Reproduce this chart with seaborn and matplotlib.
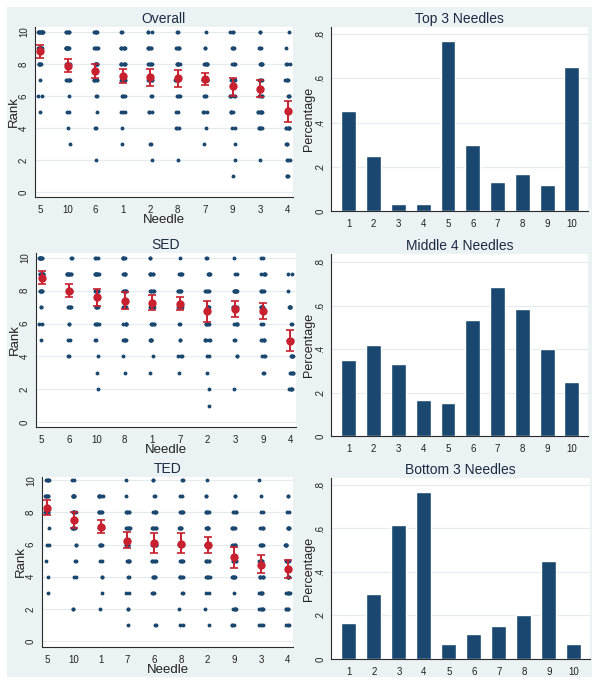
import numpy as np
import pandas as pd
import matplotlib
matplotlib.use("Agg")
import matplotlib.pyplot as plt
from matplotlib.patches import Rectangle
import seaborn as sns

# ---------------- data ----------------
ranks = list(range(1, 11))

overall_order = ["5", "10", "6", "1", "2", "8", "7", "9", "3", "4"]
# counts of respondents at rank 1..10 for each needle (same order as overall_order)
overall_counts = [
    [0, 0, 0, 0, 1, 2, 1, 6, 10, 12],
    [0, 0, 1, 1, 2, 1, 6, 6, 10, 6],
    [0, 1, 0, 2, 1, 2, 6, 7, 5, 5],
    [0, 0, 1, 1, 3, 4, 5, 7, 7, 2],
    [0, 1, 2, 0, 3, 2, 5, 6, 6, 3],
    [0, 1, 0, 3, 2, 4, 5, 7, 5, 2],
    [0, 0, 1, 1, 3, 3, 8, 7, 2, 1],
    [1, 1, 1, 2, 4, 5, 6, 4, 4, 3],
    [0, 1, 0, 5, 7, 4, 4, 6, 3, 2],
    [3, 3, 3, 6, 4, 3, 4, 3, 1, 1],
]
overall_mean = [8.8, 7.9, 7.55, 7.25, 7.2, 7.1, 7.05, 6.6, 6.45, 5.05]
overall_lo = [8.4, 7.5, 7.1, 6.8, 6.65, 6.55, 6.7, 6.0, 5.95, 4.4]
overall_hi = [9.2, 8.3, 8.0, 7.7, 7.7, 7.65, 7.45, 7.15, 7.0, 5.7]

sed_order = ["5", "6", "10", "8", "1", "7", "2", "3", "9", "4"]
sed_counts = [
    [0, 0, 0, 0, 1, 2, 2, 6, 9, 9],
    [0, 0, 0, 2, 2, 2, 5, 9, 9, 2],
    [0, 1, 1, 1, 2, 5, 5, 6, 9, 3],
    [0, 0, 1, 1, 5, 5, 5, 6, 5, 5],
    [0, 0, 1, 1, 5, 5, 5, 6, 6, 2],
    [0, 0, 1, 3, 2, 2, 5, 6, 5, 1],
    [1, 1, 1, 2, 5, 5, 5, 5, 5, 2],
    [0, 1, 0, 2, 2, 5, 6, 9, 2, 1],
    [0, 0, 2, 3, 5, 2, 5, 5, 5, 2],
    [0, 5, 5, 5, 5, 2, 5, 1, 2, 0],
]
sed_mean = [8.8, 8.0, 7.6, 7.4, 7.25, 7.2, 6.75, 6.9, 6.75, 4.95]
sed_lo = [8.4, 7.6, 7.1, 6.9, 6.8, 6.85, 6.1, 6.4, 6.25, 4.3]
sed_hi = [9.2, 8.4, 8.1, 7.9, 7.75, 7.65, 7.4, 7.35, 7.25, 5.6]

ted_order = ["5", "10", "1", "7", "6", "8", "2", "9", "3", "4"]
ted_counts = [
    [0, 0, 1, 1, 1, 2, 1, 9, 6, 5],
    [0, 2, 0, 2, 2, 2, 6, 6, 7, 2],
    [0, 1, 1, 2, 2, 5, 6, 6, 6, 0],
    [1, 2, 2, 2, 5, 6, 6, 5, 1, 1],
    [2, 0, 3, 5, 5, 6, 6, 5, 2, 2],
    [2, 1, 2, 5, 5, 5, 5, 5, 2, 2],
    [1, 1, 2, 5, 5, 5, 6, 5, 2, 1],
    [3, 5, 1, 6, 5, 5, 5, 4, 2, 0],
    [3, 5, 5, 6, 5, 5, 4, 2, 1, 1],
    [3, 4, 5, 5, 5, 5, 5, 2, 2, 0],
]
ted_mean = [8.3, 7.55, 7.1, 6.25, 6.1, 6.05, 6.0, 5.2, 4.75, 4.45]
ted_lo = [7.85, 7.0, 6.7, 5.8, 5.5, 5.45, 5.45, 4.55, 4.2, 3.9]
ted_hi = [8.8, 8.05, 7.55, 6.8, 6.7, 6.7, 6.5, 5.85, 5.35, 5.05]

bar_needles = ["1", "2", "3", "4", "5", "6", "7", "8", "9", "10"]
top3_pct = [0.45, 0.25, 0.033, 0.033, 0.767, 0.30, 0.133, 0.167, 0.117, 0.65]
middle4_pct = [0.35, 0.417, 0.333, 0.167, 0.15, 0.533, 0.683, 0.583, 0.40, 0.25]
bottom3_pct = [0.167, 0.30, 0.617, 0.767, 0.067, 0.117, 0.15, 0.20, 0.45, 0.067]

yticks_rank = [0, 2, 4, 6, 8, 10]
yticks_pct = [0, 0.2, 0.4, 0.6, 0.8]
yticklabels_pct = ["0", ".2", ".4", ".6", ".8"]

# ---------------- style ----------------
sns.set_style("white")
plt.rcParams["font.family"] = ["Liberation Sans", "DejaVu Sans"]
NAVY = "#1A476F"
RED = "#C8202F"
BG = "#EAF2F3"
GRID = "#E3ECEE"
TXT = "#1d2a44"

W, H = 604, 684
fig = plt.figure(figsize=(W / 100, H / 100), dpi=100)
fig.patch.set_facecolor("white")
fig.patches.append(Rectangle((7 / W, 1 - 677 / H), (592 - 7) / W, (677 - 7) / H,
                             transform=fig.transFigure, facecolor=BG,
                             edgecolor="none", zorder=-10))


def add_ax(left, top, right, bottom):
    ax = fig.add_axes([left / W, 1 - bottom / H, (right - left) / W, (bottom - top) / H])
    ax._px = (left, right)
    return ax


def style_axes(ax, ylabel_px, ypad):
    ax.set_facecolor("white")
    for s in ["top", "right"]:
        ax.spines[s].set_visible(False)
    for s in ["left", "bottom"]:
        ax.spines[s].set_color("#2b2b2b")
        ax.spines[s].set_linewidth(0.8)
    ax.tick_params(axis="both", direction="out", length=3, width=0.7,
                   color="#2b2b2b", labelsize=7, labelcolor="#222222", pad=3)
    ax.tick_params(axis="y", pad=ypad)
    for lab in ax.get_yticklabels():
        lab.set_rotation(90)
        lab.set_va("center")
        lab.set_ha("center")
    left, right = ax._px
    ax.yaxis.label.set_va("center")
    ax.yaxis.set_label_coords((ylabel_px - left) / (right - left), 0.5)


def strip_panel(ax, title, order, counts, mean, lo, hi, ylim, seed, ylabel_px):
    rows = []
    for needle, cnt in zip(order, counts):
        for r, c in zip(ranks, cnt):
            rows += [(needle, r)] * c
    df = pd.DataFrame(rows, columns=["Needle", "Rank"])
    np.random.seed(seed)
    for y in yticks_rank:
        ax.axhline(y, color=GRID, lw=0.8, zorder=0)
    sns.stripplot(data=df, x="Needle", y="Rank", order=order, color=NAVY,
                  size=2.8, jitter=0.085, linewidth=0, ax=ax, zorder=2)
    xs = np.arange(len(order))
    m = np.array(mean)
    ax.errorbar(xs, m, yerr=[m - np.array(lo), np.array(hi) - m], fmt="o",
                color=RED, ms=5, elinewidth=1.4, capsize=2.8, capthick=1.2, zorder=3)
    ax.set_xlim(-0.2, len(order) - 0.8)
    ax.set_ylim(*ylim)
    ax.set_yticks(yticks_rank)
    ax.set_yticklabels([str(t) for t in yticks_rank])
    ax.set_xlabel("Needle", fontsize=9.5, color="#222222", labelpad=-1)
    ax.set_ylabel("Rank", fontsize=9.5, color="#222222")
    ax.set_title(title, fontsize=10, color=TXT, pad=3)
    style_axes(ax, ylabel_px, 5)


def bar_panel(ax, title, values, ylim):
    df = pd.DataFrame({"Needle": bar_needles, "Percentage": values})
    for y in yticks_pct[1:]:
        ax.axhline(y, color=GRID, lw=0.8, zorder=0)
    sns.barplot(data=df, x="Needle", y="Percentage", order=bar_needles,
                color=NAVY, saturation=1, width=0.6, ax=ax, zorder=2)
    ax.set_xlim(-0.72, 9.65)
    ax.set_ylim(*ylim)
    ax.set_yticks(yticks_pct)
    ax.set_yticklabels(yticklabels_pct)
    ax.set_xlabel("")
    ax.set_ylabel("Percentage", fontsize=9, color="#222222")
    ax.set_title(title, fontsize=10, color=TXT, pad=3)
    style_axes(ax, 309, 4.5)


ax1 = add_ax(35, 27, 293, 197)
strip_panel(ax1, "Overall", overall_order, overall_counts, overall_mean,
            overall_lo, overall_hi, (-0.31, 10.31), 1, 14)
ax3 = add_ax(36, 253, 296, 427)
strip_panel(ax3, "SED", sed_order, sed_counts, sed_mean, sed_lo, sed_hi,
            (-0.3, 10.3), 2, 15)
ax5 = add_ax(42, 477, 293, 647)
strip_panel(ax5, "TED", ted_order, ted_counts, ted_mean, ted_lo, ted_hi,
            (-0.37, 10.2), 3, 21)

ax2 = add_ax(331, 27, 588, 211)
bar_panel(ax2, "Top 3 Needles", top3_pct, (0, 0.832))
ax4 = add_ax(331, 254, 588, 436)
bar_panel(ax4, "Middle 4 Needles", middle4_pct, (0, 0.837))
ax6 = add_ax(331, 478, 590, 659)
bar_panel(ax6, "Bottom 3 Needles", bottom3_pct, (0, 0.832))

fig.savefig("out.png", dpi=100, facecolor=fig.get_facecolor())
